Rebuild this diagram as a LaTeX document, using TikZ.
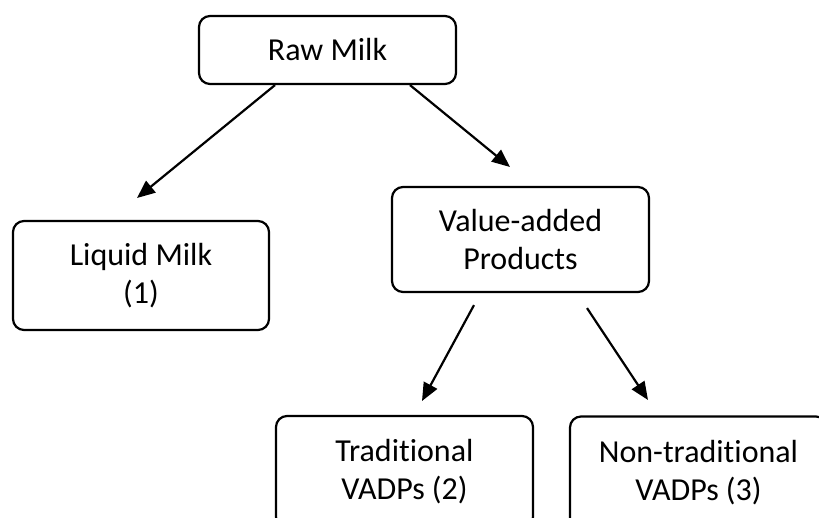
\documentclass[tikz,border=0pt]{standalone}
\usepackage{fontspec}
\setmainfont[Ligatures=NoCommon]{Carlito}
\usetikzlibrary{arrows.meta,calc}
\tikzset{
  box/.style={draw=black, line width=2.2pt, rounded corners=11pt, align=center,
    minimum width=257pt, inner sep=0pt,
    font=\fontsize{32pt}{38pt}\selectfont},
  link/.style={line width=2.2pt, -{Triangle[length=18pt,width=15pt]}}
}
\begin{document}
\begin{tikzpicture}[x=1pt,y=-1pt]
\useasboundingbox (0,0) rectangle (819,518);
\clip (0,0) rectangle (819,518);
\node[box, minimum height=68pt] (raw) at (327.5,50) {Raw Milk};
\node[box, minimum width=256pt, minimum height=109pt] (liquid) at (141,275.5) {Liquid Milk\\(1)};
\node[box, minimum height=105pt] (vap) at (520.5,239.5) {Value-added\\Products};
\node[box, minimum height=112pt] (trad) at (404.5,472) {Traditional\\VADPs (2)};
\node[box, minimum height=112pt] (ntrad) at (698.5,472.5) {Non-traditional\\VADPs (3)};
\coordinate (t1) at (137,198);
\coordinate (t2) at (510,167);
\coordinate (t3) at (422,401);
\coordinate (t4) at (648,400);
\draw[link] ($(raw.south)+(-52.5,0)$) -- (t1);
\draw[link] ($(raw.south)+(82.5,0)$) -- (t2);
\draw[link] ($(vap.south)+(-46.5,12)$) -- (t3);
\draw[link] ($(vap.south)+(66.5,15)$) -- (t4);
\end{tikzpicture}
\end{document}
